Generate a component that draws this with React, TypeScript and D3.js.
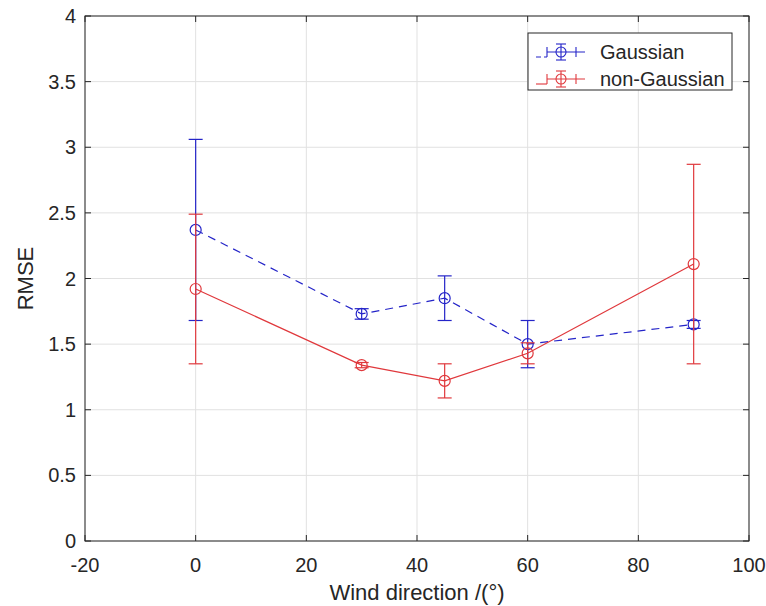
import React from "react";
import * as d3 from "d3";

// Wind direction (degrees) and RMSE with symmetric error half-widths
const directions = [0, 30, 45, 60, 90];
const gaussianRmse = [2.37, 1.73, 1.85, 1.5, 1.65];
const gaussianErr = [0.69, 0.04, 0.17, 0.18, 0.03];
const nonGaussianRmse = [1.92, 1.34, 1.22, 1.43, 2.11];
const nonGaussianErr = [0.57, 0.02, 0.13, 0.08, 0.76];

const xTicks = [-20, 0, 20, 40, 60, 80, 100];
const yTicks = [0, 0.5, 1, 1.5, 2, 2.5, 3, 3.5, 4];
const seriesNames = ["Gaussian", "non-Gaussian"];

const W = 766;
const H = 606;
const margin = { left: 85, right: 17, top: 16, bottom: 65 };

const BLUE = "#2424c8";
const RED = "#e0383c";
const FONT = "Liberation Sans, Arial, sans-serif";
const TEXT = "#262626";

export default function App() {
  const x = d3.scaleLinear().domain([-20, 100]).range([margin.left, W - margin.right]);
  const y = d3.scaleLinear().domain([0, 4]).range([H - margin.bottom, margin.top]);
  const line = d3
    .line<[number, number]>()
    .x((d) => x(d[0]))
    .y((d) => y(d[1]));

  const series = [
    { name: seriesNames[0], vals: gaussianRmse, err: gaussianErr, color: BLUE, dash: "8,6" },
    { name: seriesNames[1], vals: nonGaussianRmse, err: nonGaussianErr, color: RED, dash: undefined },
  ];

  const x0 = x.range()[0];
  const x1 = x.range()[1];
  const yTop = y.range()[1];
  const yBot = y.range()[0];
  const tick = 6;
  const cap = 7;

  const legX = 528;
  const legY = 33;
  const legW = 204;
  const legH = 57;

  return (
    <svg width={W} height={H} style={{ display: "block", position: "absolute", left: 0, top: 0 }}>
      <rect width={W} height={H} fill="#fff" />
      {/* grid */}
      {xTicks.map((t) => (
        <line key={"gx" + t} x1={x(t)} x2={x(t)} y1={yTop} y2={yBot} stroke="#e1e1e1" strokeWidth={1} />
      ))}
      {yTicks.map((t) => (
        <line key={"gy" + t} x1={x0} x2={x1} y1={y(t)} y2={y(t)} stroke="#e1e1e1" strokeWidth={1} />
      ))}

      {/* series */}
      {series.map((s) => {
        const pts: [number, number][] = directions.map((d, i) => [d, s.vals[i]]);
        return (
          <g key={s.name}>
            <path d={line(pts) || ""} fill="none" stroke={s.color} strokeWidth={1.2} strokeDasharray={s.dash} />
            {directions.map((d, i) => {
              const cx = x(d);
              const hi = y(s.vals[i] + s.err[i]);
              const lo = y(s.vals[i] - s.err[i]);
              return (
                <g key={d} stroke={s.color} strokeWidth={1.2} fill="none">
                  <line x1={cx} x2={cx} y1={hi} y2={lo} />
                  <line x1={cx - cap} x2={cx + cap} y1={hi} y2={hi} />
                  <line x1={cx - cap} x2={cx + cap} y1={lo} y2={lo} />
                  <circle cx={cx} cy={y(s.vals[i])} r={5.5} />
                </g>
              );
            })}
          </g>
        );
      })}

      {/* axes box and ticks */}
      <rect x={x0} y={yTop} width={x1 - x0} height={yBot - yTop} fill="none" stroke="#262626" strokeWidth={1} />
      {xTicks.map((t) => (
        <g key={"tx" + t} stroke="#262626">
          <line x1={x(t)} x2={x(t)} y1={yBot} y2={yBot - tick} />
          <line x1={x(t)} x2={x(t)} y1={yTop} y2={yTop + tick} />
        </g>
      ))}
      {yTicks.map((t) => (
        <g key={"ty" + t} stroke="#262626">
          <line x1={x0} x2={x0 + tick} y1={y(t)} y2={y(t)} />
          <line x1={x1} x2={x1 - tick} y1={y(t)} y2={y(t)} />
        </g>
      ))}
      {xTicks.map((t) => (
        <text key={"lx" + t} x={x(t)} y={yBot + 31} textAnchor="middle" fontFamily={FONT} fontSize={20} fill={TEXT}>
          {t}
        </text>
      ))}
      {yTicks.map((t) => (
        <text key={"ly" + t} x={x0 - 9} y={y(t) + 7} textAnchor="end" fontFamily={FONT} fontSize={20} fill={TEXT}>
          {t}
        </text>
      ))}
      <text x={(x0 + x1) / 2} y={600} textAnchor="middle" fontFamily={FONT} fontSize={22} fill={TEXT}>
        Wind direction /(°)
      </text>
      <text
        transform={`translate(33,${(yTop + yBot) / 2}) rotate(-90)`}
        textAnchor="middle"
        fontFamily={FONT}
        fontSize={22}
        fill={TEXT}
      >
        RMSE
      </text>

      {/* legend */}
      <rect x={legX} y={legY} width={legW} height={legH} fill="#fff" stroke="#262626" strokeWidth={1} />
      {series.map((s, i) => {
        const ly = legY + 19 + i * 27;
        return (
          <g key={"leg" + s.name}>
            <g stroke={s.color} strokeWidth={1.1} fill="none">
              <line x1={536} x2={547} y1={ly + 5} y2={ly + 5} strokeDasharray={s.dash ? "5,3" : undefined} />
              <line x1={547} x2={547} y1={ly - 5} y2={ly + 5} />
              <line x1={547} x2={585} y1={ly} y2={ly} />
              <line x1={576} x2={576} y1={ly - 5} y2={ly + 5} />
              <line x1={561} x2={561} y1={ly - 8} y2={ly + 8} />
              <line x1={556} x2={566} y1={ly - 8} y2={ly - 8} />
              <line x1={556} x2={566} y1={ly + 8} y2={ly + 8} />
              <circle cx={561} cy={ly} r={5} />
            </g>
            <text x={600} y={ly + 7} fontFamily={FONT} fontSize={20} fill={TEXT}>
              {s.name}
            </text>
          </g>
        );
      })}
    </svg>
  );
}
